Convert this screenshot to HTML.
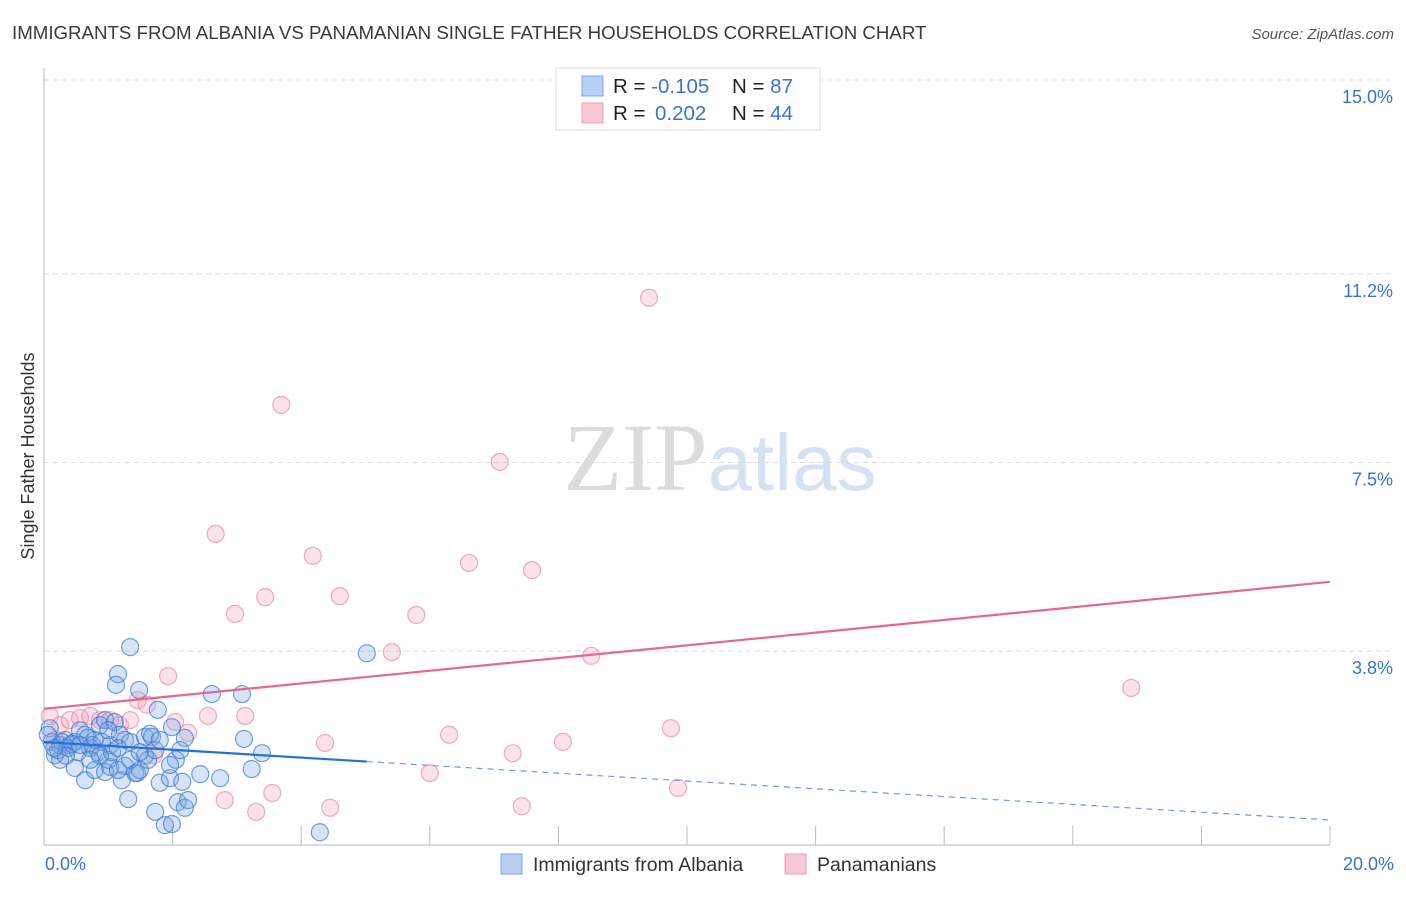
<!DOCTYPE html>
<html><head><meta charset="utf-8"><style>
body{margin:0;background:#fff;font-family:"Liberation Sans",sans-serif;}
svg text{font-family:"Liberation Sans",sans-serif;}
</style></head><body>
<svg id="chart" width="1406" height="892" xmlns="http://www.w3.org/2000/svg">
<text x="12" y="39" font-size="18.7" fill="#3a3a3a">IMMIGRANTS FROM ALBANIA VS PANAMANIAN SINGLE FATHER HOUSEHOLDS CORRELATION CHART</text>
<text x="1394" y="39" font-size="15" fill="#555" font-style="italic" text-anchor="end">Source: ZipAtlas.com</text>
<text x="720" y="490" font-size="96" text-anchor="middle"><tspan fill="#dcdcdc" font-family="Liberation Serif">ZIP</tspan><tspan fill="#d4e2f4" font-size="80">atlas</tspan></text>
<g id="grid"></g><g id="axes"></g><g id="marks"></g><g id="lines"></g>
<text transform="translate(34,456) rotate(-90)" font-size="18" fill="#333" text-anchor="middle">Single Father Households</text>
<g>
<rect x="556" y="68" width="264" height="62" fill="#fff" stroke="#ddd"/>
<rect x="582" y="76" width="21" height="20" fill="#b8d0f3" stroke="#7ea6e0"/>
<rect x="582" y="103" width="21" height="20" fill="#f9c6d4" stroke="#eea0b6"/>
<text x="613" y="93" font-size="20.5" fill="#222">R = <tspan fill="#3b72d0">-0.105</tspan><tspan x="732">N = </tspan><tspan fill="#3b72d0">87</tspan></text>
<text x="613" y="120" font-size="20.5" fill="#222">R = <tspan fill="#3b72d0" x="655">0.202</tspan><tspan x="732">N = </tspan><tspan fill="#3b72d0">44</tspan></text>
</g>
<g>
<rect x="501" y="854" width="21" height="20" fill="#b8d0f3" stroke="#7ea6e0"/>
<text x="533" y="871" font-size="19.5" fill="#333">Immigrants from Albania</text>
<rect x="785" y="854" width="21" height="20" fill="#f9c6d4" stroke="#eea0b6"/>
<text x="817" y="871" font-size="19.5" fill="#333">Panamanians</text>
</g>
</svg>
<script>
const yTicks=[3.8,7.5,11.2,15.0];
const yTickLabels=["3.8%","7.5%","11.2%","15.0%"];
const xTicks=[0,2,4,6,8,10,12,14,16,18,20];
const xEndLabels=["0.0%","20.0%"];
const blueX=[1.34,1.15,1.12,1.48,2.61,3.08,1.77,5.02,0.09,0.12,0.17,0.25,0.33,0.40,0.48,0.56,0.64,0.72,0.79,0.87,0.95,1.03,1.10,1.18,1.26,1.34,1.57,1.65,1.68,1.99,2.19,3.11,3.39,0.25,0.48,0.64,0.79,0.95,1.03,1.21,1.26,1.42,1.45,1.57,1.62,1.80,1.96,2.05,2.15,2.43,2.74,3.23,1.31,1.73,2.08,2.19,2.24,1.88,1.99,4.29,0.06,0.22,0.28,0.37,0.44,0.53,0.68,0.75,0.84,0.90,1.00,1.06,1.15,1.34,1.49,1.73,1.80,1.96,2.12,0.87,0.56,0.34,0.16,1.49,0.72,1.15,1.00];
const blueY=[3.88,3.35,3.14,3.04,2.96,2.96,2.65,3.76,2.29,2.02,1.76,1.96,2.06,1.96,2.02,2.25,2.16,1.90,2.06,2.35,2.45,1.96,2.41,2.16,2.06,2.02,2.12,2.18,2.12,2.31,2.10,2.08,1.80,1.67,1.51,1.27,1.47,1.43,1.53,1.27,1.55,1.41,1.41,1.75,1.67,1.22,1.31,1.67,1.24,1.39,1.31,1.49,0.90,0.65,0.84,0.73,0.88,0.39,0.41,0.25,2.16,1.86,2.02,1.90,1.98,1.82,2.10,1.96,1.82,2.02,1.67,1.82,1.90,1.67,1.47,1.86,2.06,1.57,1.86,1.75,1.96,1.75,1.90,1.82,1.67,1.47,2.25];
const pinkX=[9.41,3.69,7.09,2.67,4.18,6.61,7.59,3.44,4.60,2.97,5.79,5.41,8.51,1.93,16.91,1.46,1.60,2.55,3.13,2.04,2.24,9.75,6.30,4.37,8.07,7.29,1.71,6.00,3.55,2.81,4.45,7.43,9.86,3.30,0.09,0.25,0.40,0.56,0.72,0.87,1.03,1.18,1.34,0.17];
const pinkY=[10.73,8.63,7.51,6.10,5.67,5.53,5.39,4.86,4.88,4.53,4.51,3.78,3.71,3.31,3.08,2.84,2.75,2.53,2.53,2.41,2.20,2.29,2.16,2.00,2.02,1.80,1.76,1.41,1.02,0.88,0.73,0.76,1.12,0.65,2.53,2.35,2.45,2.49,2.53,2.45,2.45,2.35,2.45,2.06];
const blueTrend=[2.02,0.49];
const blueSolidEnd=5.02;
const pinkTrend=[2.67,5.16];

const NS="http://www.w3.org/2000/svg";
const X0=44,X1=1330,Y0=845,Y1=80;
const sx=v=>X0+(X1-X0)*v/20;
const sy=v=>Y0-(Y0-Y1)*v/15;
function mk(tag,attrs,parent){const e=document.createElementNS(NS,tag);for(const k in attrs)e.setAttribute(k,attrs[k]);document.getElementById(parent).appendChild(e);return e;}
yTicks.forEach((t,i)=>{
  const g=mk('line',{x1:X0,x2:1394,y1:sy(t),y2:sy(t),stroke:'#ddd','stroke-dasharray':'5,4'},'grid');
  
  
  const tx=mk('text',{x:1393,y:sy(t)+23,'font-size':18,fill:'#3b72d0','text-anchor':'end'},'axes');
  tx.textContent=yTickLabels[i];
  
  
});
const ya=mk('line',{x1:X0,x2:X0,y1:68,y2:Y0,stroke:'#bbb'},'axes');


const xa=mk('line',{x1:X0,x2:X1,y1:Y0,y2:Y0,stroke:'#bbb'},'axes');


xTicks.forEach(t=>{
  const l=mk('line',{x1:sx(t),x2:sx(t),y1:Y0,y2:t===0?Y0:826,stroke:'#bbb'},'axes');
  
  
});
[[0,'start',45],[20,'end',1394]].forEach((d,i)=>{
  const tx=mk('text',{x:d[2],y:870,'font-size':18,fill:'#3b72d0','text-anchor':d[1]},'axes');
  tx.textContent=xEndLabels[i];
  
  
});
pinkX.forEach((v,i)=>{
  const c=mk('circle',{cx:sx(v),cy:sy(pinkY[i]),r:8.5,fill:'rgba(245,160,185,0.3)',stroke:'rgba(230,120,155,0.6)','stroke-width':1.2},'marks');
  
  
});
blueX.forEach((v,i)=>{
  const c=mk('circle',{cx:sx(v),cy:sy(blueY[i]),r:8.5,fill:'rgba(120,165,230,0.3)',stroke:'rgba(60,120,210,0.7)','stroke-width':1.2},'marks');
  
  
});
const bAt=x=>blueTrend[0]+(blueTrend[1]-blueTrend[0])*x/20;
const bs=mk('line',{x1:sx(0),y1:sy(bAt(0)),x2:sx(blueSolidEnd),y2:sy(bAt(blueSolidEnd)),stroke:'#2a6fd6','stroke-width':2.2},'lines');


const bd=mk('line',{x1:sx(blueSolidEnd),y1:sy(bAt(blueSolidEnd)),x2:sx(20),y2:sy(bAt(20)),stroke:'#6f9be0','stroke-width':1.2,'stroke-dasharray':'6,5'},'lines');


const pl=mk('line',{x1:sx(0),y1:sy(pinkTrend[0]),x2:sx(20),y2:sy(pinkTrend[1]),stroke:'#e5688f','stroke-width':2.2},'lines');


</script>
</body></html>
